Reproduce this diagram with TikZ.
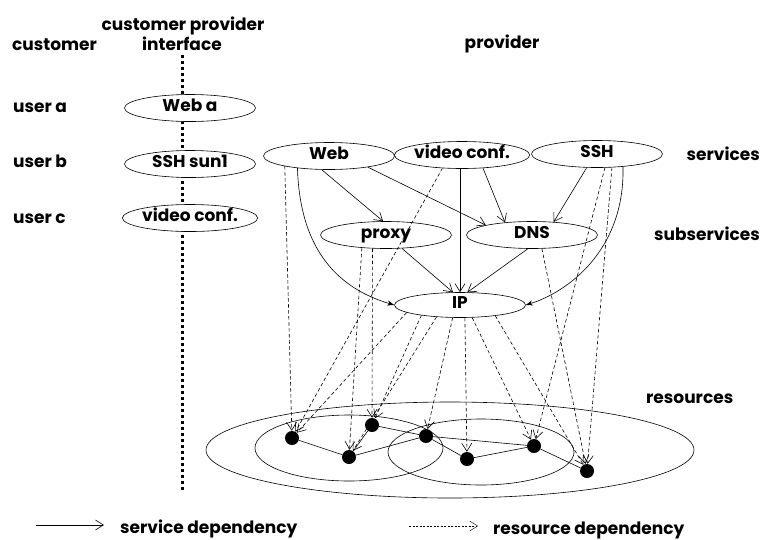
\documentclass[tikz,border=0pt]{standalone}
\usepackage{fontspec}
\setmainfont{Poppins}
\usetikzlibrary{shapes.geometric,arrows.meta}
\begin{document}
\begin{tikzpicture}[x=1pt,y=-1pt,
  font=\fontsize{17}{20}\selectfont\bfseries,
  svc/.style={draw, ellipse, fill=white, line width=0.6pt,
    minimum width=131pt, minimum height=27pt, inner sep=0pt,
    text height=0.72em, text depth=0.04em},
  rnode/.style={circle, fill=black, minimum size=14pt, inner sep=0pt},
  lbl/.style={anchor=base west, inner sep=0pt},
  rlbl/.style={anchor=base east, inner sep=0pt},
  hdr/.style={anchor=base, inner sep=0pt},
  dep/.style={-{Straight Barb[length=8pt,width=10pt]}, line width=0.6pt},
  rdep/.style={dep, dash pattern=on 3.5pt off 2.5pt},
  curvedep/.style={-{Stealth[length=7pt,width=5pt]}, line width=0.6pt},
  link/.style={line width=0.6pt},
  iface/.style={line width=3pt, dash pattern=on 3pt off 3pt}]
\useasboundingbox (0,0) rectangle (763,539);

% column headings
\node[hdr] (hcp) at (183,30) {customer provider};
\node[hdr] (hif) at (182,50) {interface};
\node[lbl] (hcu) at (12,50) {customer};
\node[hdr] (hpr) at (502,48) {provider};

% customer/provider interface line
\coordinate (ifTop) at (182,55);
\coordinate (ifBot) at (182,490);
\draw[iface] (ifTop) -- (ifBot);

% users and their services
\node[lbl] (ua) at (13,112) {user a};
\node[lbl] (ub) at (13,167) {user b};
\node[lbl] (uc) at (13,223) {user c};
\node[svc] (weba) at (190,108) {Web a};
\node[svc] (sshs) at (190,164) {SSH sun1};
\node[svc] (vcu) at (190,218) {video conf.};

% layer labels
\node[rlbl] (lsv) at (760,160) {services};
\node[rlbl] (lss) at (760,240) {subservices};
\node[lbl] (lrs) at (646,403) {resources};

% resource groups
\draw[link] (450,450) ellipse [x radius=244, y radius=48];
\draw[link] (349,448) ellipse [x radius=94, y radius=33];
\draw[link] (481,452) ellipse [x radius=93, y radius=33];

% services
\node[svc] (web) at (329,156) {Web};
\node[svc] (vcp) at (462,155) {video conf.};
\node[svc] (ssh) at (597,154) {SSH};
\node[svc] (proxy) at (386,235) {proxy};
\node[svc] (dns) at (532,235) {DNS};
\node[svc, minimum height=25pt] (ip) at (460,305) {IP};

% resources
\node[rnode] (n1) at (292,438) {};
\node[rnode] (n2) at (349,457) {};
\node[rnode] (n3) at (372,425) {};
\node[rnode] (n4) at (426,436) {};
\node[rnode] (n5) at (467,459) {};
\node[rnode] (n6) at (534,446) {};
\node[rnode] (n7) at (587,471) {};
\draw[link] (n1) -- (n2);
\draw[link] (n2) -- (n3);
\draw[link] (n2) -- (n4);
\draw[link] (n3) -- (n4);
\draw[link] (n4) -- (n5);
\draw[link] (n4) -- (n6);
\draw[link] (n5) -- (n6);
\draw[link] (n6) -- (n7);

% service dependencies
\draw[dep] (web.242) -- (proxy.102.5);
\draw[dep] (web.344.5) -- (dns.168.7);
\draw[dep] (vcp.south -| ip.north) -- (ip.north);
\draw[dep] (vcp.328.6) -- (dns.155.5);
\draw[dep] (ssh.233.1) -- (dns.31.4);
\draw[dep] (proxy.320.7) -- (ip.119.4);
\draw[dep] (dns.253.5) -- (ip.60.6);
\draw[curvedep] (web.201) .. controls (300,252) and (340,289) .. (ip.west);
\draw[curvedep] (ssh.334.5) .. controls (625,250) and (568,292) .. (ip.east);

% resource dependencies
\draw[rdep] (web.193.9) -- (n1);
\draw[rdep] (vcp.214.2) -- (n1);
\draw[rdep] (proxy.208.7) -- (n2);
\draw[rdep] (proxy.225.4) -- (n3);
\draw[rdep] (dns.306.9) -- (n7);
\draw[rdep] (ssh.300.8) -- (n6);
\draw[rdep] (ssh.318.9) -- (n7);
\draw[rdep] (ip.188.3) -- (n1);
\draw[rdep] (ip.195) -- (n3);
\draw[rdep] (ip.207) -- (n2);
\draw[rdep] (ip.240.6) -- (n4);
\draw[rdep] (ip.291.8) -- (n5);
\draw[rdep] (ip.314.3) -- (n6);
\draw[rdep] (ip.343.2) -- (n7);

% legend
\coordinate (sa) at (36,525);
\coordinate (sb) at (104,525);
\draw[dep] (sa) -- (sb);
\node[lbl] (sl) at (120,533) {service dependency};
\coordinate (ra) at (409,526);
\coordinate (rb) at (478,526);
\draw[dep, dash pattern=on 2pt off 1.5pt, line width=0.4pt] (ra) -- (rb);
\node[lbl] (rl) at (493,534) {resource dependency};
\end{tikzpicture}
\end{document}
